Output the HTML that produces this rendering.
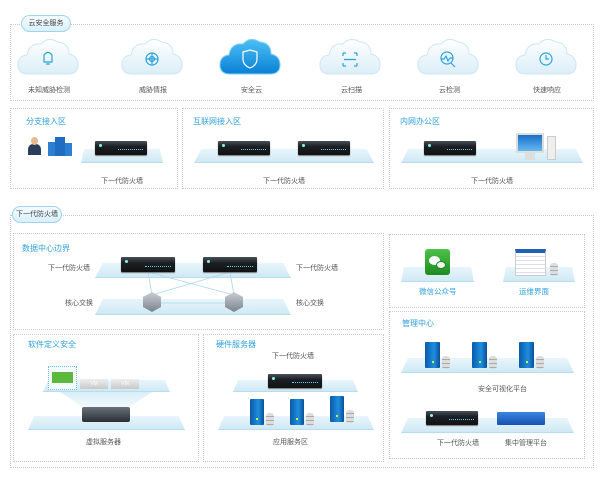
<!DOCTYPE html>
<html><head><meta charset="utf-8"><style>
*{margin:0;padding:0;box-sizing:border-box}
body{width:600px;height:500px;background:#fff;position:relative;overflow:hidden;font-family:"Liberation Sans","Noto Sans CJK SC",sans-serif;color:#555}
.a{position:absolute}
.box{position:absolute;border:1px dotted #c8c8c8}
.t{position:absolute;font-size:7px;white-space:nowrap;color:#555}
.h{position:absolute;font-size:8px;white-space:nowrap;color:#2fa0dc}
.tag{position:absolute;border:1px solid #9fd3ee;background:linear-gradient(#f4fbff,#d9f0fb);border-radius:9px;font-size:7px;color:#444;text-align:center}
.pf{position:absolute;background:linear-gradient(#e8f5fb,#cfe9f5);clip-path:polygon(4% 0,96% 0,100% 100%,0 100%);border-bottom:1px solid #b8dcef}
.fw{position:absolute;background:linear-gradient(#4a5058,#1b1f24 40%,#111);border-radius:1px;box-shadow:0 1px 1px #777}
.fw:before{content:"";position:absolute;left:4px;top:3px;width:3px;height:3px;border-radius:50%;background:#8fd}
.fw:after{content:"";position:absolute;left:45%;right:8%;bottom:3px;height:2px;border-top:1px dotted #6cf}
.sv{position:absolute;background:linear-gradient(90deg,#0b5aa8,#1e8ee0 60%,#0a4f96);border-radius:1px}
.sv:after{content:"";position:absolute;left:45%;bottom:5px;width:2px;height:2px;background:#cf3}
.cy{position:absolute;width:8px;height:13px;background:repeating-linear-gradient(#ddd 0 3px,#aaa 3px 4px);border-radius:3px}
</style></head><body>

<div class="box" style="left:10px;top:24px;width:584px;height:77px"></div>
<div class="tag" style="left:21px;top:15px;width:50px;height:17px;line-height:15px">云安全服务</div>

<svg class="a" style="left:0;top:38px" width="600" height="42">
<defs>
<linearGradient id="cw" x1="0" y1="0" x2="0" y2="1"><stop offset="0" stop-color="#fff"/><stop offset="1" stop-color="#dbeef8"/></linearGradient>
<linearGradient id="cb" x1="0" y1="0" x2="0" y2="1"><stop offset="0" stop-color="#4cc0f5"/><stop offset="1" stop-color="#0a7fd6"/></linearGradient>
<path id="cl" d="M-20,34 Q-30,34 -30,25 Q-30,16 -21,15 Q-19,3 -7,4 Q0,-4 10,2 Q21,3 21,14 Q30,16 30,25 Q30,34 20,34 Z"/>
</defs>
<g transform="translate(48,2)"><use href="#cl" fill="url(#cw)" stroke="#cfe6f3"/></g>
<g transform="translate(152,2)"><use href="#cl" fill="url(#cw)" stroke="#cfe6f3"/></g>
<g transform="translate(250,2)"><use href="#cl" fill="url(#cb)" stroke="#7fd0f5"/></g>
<g transform="translate(350,2)"><use href="#cl" fill="url(#cw)" stroke="#cfe6f3"/></g>
<g transform="translate(448,2)"><use href="#cl" fill="url(#cw)" stroke="#cfe6f3"/></g>
<g transform="translate(546,2)"><use href="#cl" fill="url(#cw)" stroke="#cfe6f3"/></g>
<g fill="none" stroke="#2aa3e0" stroke-width="1.2">
<path d="M44,24 L44,17 Q48,12 52,17 L52,24 Z M46,26 L50,26"/>
<circle cx="152" cy="21" r="6"/><circle cx="152" cy="21" r="2.5"/><path d="M146,21h12M152,15v12"/>
<path d="M243,14 L250,12 L257,14 L257,21 Q257,27 250,30 Q243,27 243,21 Z" stroke="#fff"/>
<path d="M343,15h3M343,15v3M357,15h-3M357,15v3M343,28h3M343,28v-3M357,28h-3M357,28v-3M344,21.5h12"/>
<circle cx="447" cy="20" r="6"/><path d="M441,21l3,0 2,-3 2,5 2,-3 3,0M451,25l4,4"/>
<circle cx="546" cy="21" r="6"/><path d="M546,17v4h3"/>
</g></svg>
<div class="t" style="left:28px;top:85px">未知威胁检测</div>
<div class="t" style="left:139px;top:85px">威胁情报</div>
<div class="t" style="left:241px;top:85px">安全云</div>
<div class="t" style="left:341px;top:85px">云扫描</div>
<div class="t" style="left:439px;top:85px">云检测</div>
<div class="t" style="left:533px;top:85px">快速响应</div>

<div class="box" style="left:10px;top:108px;width:168px;height:81px"></div>
<div class="box" style="left:182px;top:108px;width:202px;height:81px"></div>
<div class="box" style="left:389px;top:108px;width:205px;height:81px"></div>
<div class="h" style="left:26px;top:116px">分支接入区</div>
<div class="h" style="left:193px;top:116px">互联网接入区</div>
<div class="h" style="left:400px;top:116px">内网办公区</div>
<div class="pf" style="left:81px;top:149px;width:82px;height:14px"></div>
<div class="pf" style="left:194px;top:149px;width:180px;height:14px"></div>
<div class="pf" style="left:401px;top:149px;width:182px;height:14px"></div>
<div class="fw" style="left:95px;top:141px;width:52px;height:14px"></div>
<div class="fw" style="left:218px;top:141px;width:52px;height:14px"></div>
<div class="fw" style="left:298px;top:141px;width:52px;height:14px"></div>
<div class="fw" style="left:424px;top:141px;width:52px;height:14px"></div>
<div class="a" style="left:28px;top:144px;width:13px;height:11px;background:#2b3e5c;border-radius:5px 5px 0 0"></div>
<div class="a" style="left:31px;top:137px;width:7px;height:8px;background:#e9b98f;border-radius:50%"></div>
<div class="a" style="left:48px;top:142px;width:7px;height:14px;background:#2c7fd0"></div>
<div class="a" style="left:55px;top:137px;width:10px;height:19px;background:#1f6cc0"></div>
<div class="a" style="left:65px;top:143px;width:7px;height:13px;background:#2c7fd0"></div>
<div class="a" style="left:516px;top:133px;width:28px;height:20px;background:linear-gradient(#1a6fc9,#66b8f0);border:2px solid #ddd"></div>
<div class="a" style="left:525px;top:153px;width:10px;height:7px;background:#ddd"></div>
<div class="a" style="left:547px;top:136px;width:9px;height:24px;background:#eee;border:1px solid #ccc"></div>
<div class="t" style="left:101px;top:176px">下一代防火墙</div>
<div class="t" style="left:263px;top:176px">下一代防火墙</div>
<div class="t" style="left:471px;top:176px">下一代防火墙</div>

<div class="box" style="left:10px;top:215px;width:584px;height:253px"></div>
<div class="tag" style="left:12px;top:206px;width:50px;height:17px;line-height:15px">下一代防火墙</div>

<div class="box" style="left:13px;top:233px;width:371px;height:97px"></div>
<div class="h" style="left:22px;top:243px">数据中心边界</div>
<div class="pf" style="left:95px;top:263px;width:196px;height:15px"></div>
<div class="pf" style="left:95px;top:299px;width:196px;height:16px"></div>
<svg class="a" style="left:0;top:0" width="600" height="500"><g stroke="#a8d8ee" stroke-width=".8" fill="none">
<path d="M148,272L152,295M230,272L234,295M148,272L234,295M230,272L152,295M152,303L234,303"/></g></svg>
<div class="fw" style="left:121px;top:257px;width:54px;height:15px"></div>
<div class="fw" style="left:203px;top:257px;width:54px;height:15px"></div>
<div class="a" style="left:143px;top:292px;width:18px;height:20px;background:linear-gradient(#c9ced3,#7a828a);clip-path:polygon(50% 0,100% 25%,100% 75%,50% 100%,0 75%,0 25%)"></div>
<div class="a" style="left:225px;top:292px;width:18px;height:20px;background:linear-gradient(#c9ced3,#7a828a);clip-path:polygon(50% 0,100% 25%,100% 75%,50% 100%,0 75%,0 25%)"></div>
<div class="t" style="left:48px;top:263px">下一代防火墙</div>
<div class="t" style="left:296px;top:263px">下一代防火墙</div>
<div class="t" style="left:65px;top:298px">核心交换</div>
<div class="t" style="left:296px;top:298px">核心交换</div>

<div class="box" style="left:389px;top:234px;width:196px;height:74px"></div>
<div class="pf" style="left:401px;top:267px;width:73px;height:15px"></div>
<div class="pf" style="left:503px;top:267px;width:72px;height:15px"></div>
<div class="a" style="left:425px;top:249px;width:25px;height:26px;background:linear-gradient(#4fc24a,#1d8a1f);border-radius:3px"></div>
<div class="a" style="left:429px;top:256px;width:11px;height:9px;background:#fff;border-radius:50%"></div>
<div class="a" style="left:436px;top:261px;width:10px;height:8px;background:#f2f2f2;border-radius:50%;border:1px solid #1d8a1f"></div>
<div class="a" style="left:515px;top:249px;width:31px;height:27px;background:repeating-linear-gradient(#fff 0 3px,#dde 3px 4px);border:1px solid #ccc;border-top:4px solid #1f5fb5"></div>
<div class="cy" style="left:550px;top:263px"></div>
<div class="h" style="left:419px;top:286px;font-size:7.5px">微信公众号</div>
<div class="h" style="left:519px;top:286px;font-size:7.5px">运维界面</div>

<div class="box" style="left:389px;top:311px;width:196px;height:148px"></div>
<div class="h" style="left:402px;top:318px">管理中心</div>
<div class="pf" style="left:401px;top:358px;width:173px;height:15px"></div>
<div class="sv" style="left:425px;top:342px;width:15px;height:26px"></div>
<div class="cy" style="left:442px;top:356px"></div>
<div class="sv" style="left:472px;top:342px;width:15px;height:26px"></div>
<div class="cy" style="left:489px;top:356px"></div>
<div class="sv" style="left:519px;top:342px;width:15px;height:26px"></div>
<div class="cy" style="left:536px;top:356px"></div>
<div class="t" style="left:478px;top:384px">安全可视化平台</div>
<div class="pf" style="left:401px;top:418px;width:173px;height:15px"></div>
<div class="fw" style="left:426px;top:411px;width:52px;height:14px"></div>
<div class="a" style="left:497px;top:412px;width:48px;height:13px;background:linear-gradient(#3a86e0,#1552b0);border-radius:1px"></div>
<div class="t" style="left:437px;top:438px">下一代防火墙</div>
<div class="t" style="left:505px;top:438px">集中管理平台</div>

<div class="box" style="left:13px;top:334px;width:186px;height:128px"></div>
<div class="h" style="left:28px;top:339px">软件定义安全</div>
<div class="pf" style="left:43px;top:380px;width:127px;height:12px"></div>
<div class="a" style="left:60px;top:392px;width:92px;height:18px;background:linear-gradient(#d8eef9,#f6fbfe);clip-path:polygon(0 0,100% 0,70% 100%,30% 100%)"></div>
<div class="a" style="left:48px;top:366px;width:29px;height:24px;border:1px dotted #6bbbe0;background:#f4fbfe"></div>
<div class="a" style="left:52px;top:372px;width:21px;height:11px;background:#5ab83a"></div>
<div class="a" style="left:80px;top:379px;width:28px;height:10px;background:linear-gradient(#eee,#c8c8c8);font-size:5px;color:#fff;text-align:center;line-height:10px">VM</div>
<div class="a" style="left:111px;top:379px;width:28px;height:10px;background:linear-gradient(#eee,#c8c8c8);font-size:5px;color:#fff;text-align:center;line-height:10px">VM</div>
<div class="pf" style="left:28px;top:416px;width:157px;height:14px"></div>
<div class="a" style="left:82px;top:407px;width:48px;height:15px;background:linear-gradient(#6a7079,#2a2f36);border-radius:2px"></div>
<div class="t" style="left:86px;top:437px">虚拟服务器</div>

<div class="box" style="left:203px;top:334px;width:181px;height:128px"></div>
<div class="h" style="left:216px;top:339px">硬件服务器</div>
<div class="t" style="left:272px;top:351px">下一代防火墙</div>
<div class="pf" style="left:233px;top:380px;width:125px;height:12px"></div>
<div class="fw" style="left:268px;top:374px;width:54px;height:14px"></div>
<div class="pf" style="left:218px;top:416px;width:156px;height:14px"></div>
<div class="sv" style="left:250px;top:399px;width:14px;height:26px"></div>
<div class="cy" style="left:266px;top:413px"></div>
<div class="sv" style="left:290px;top:399px;width:14px;height:26px"></div>
<div class="cy" style="left:306px;top:413px"></div>
<div class="sv" style="left:330px;top:396px;width:14px;height:26px"></div>
<div class="cy" style="left:346px;top:410px"></div>
<div class="t" style="left:273px;top:437px">应用服务区</div>
</body></html>
